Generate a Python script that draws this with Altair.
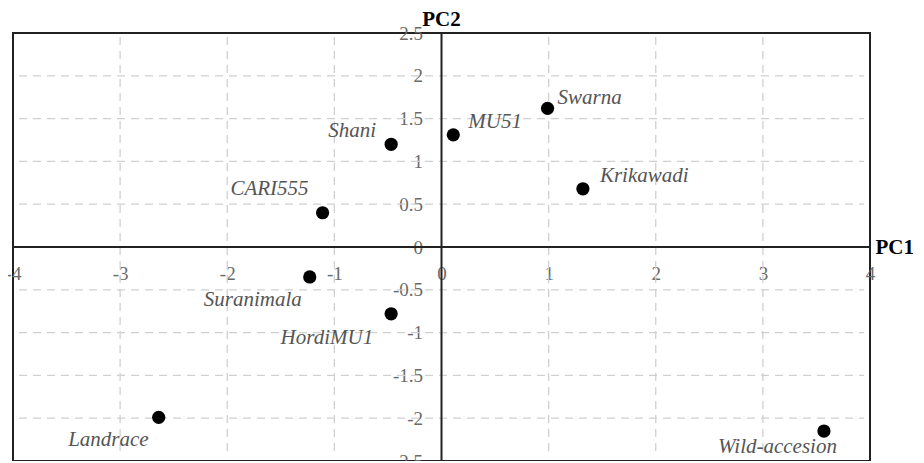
import altair as alt
import pandas as pd

names = ["Shani", "MU51", "Swarna", "Krikawadi", "CARI555", "Suranimala",
         "HordiMU1", "Landrace", "Wild-accesion"]
pc1 = [-0.47, 0.11, 0.99, 1.32, -1.11, -1.23, -0.47, -2.64, 3.57]
pc2 = [1.20, 1.31, 1.62, 0.68, 0.40, -0.35, -0.78, -1.99, -2.15]

x_ticks = [-4, -3, -2, -1, 0, 1, 2, 3, 4]
y_ticks = [-2.5, -2, -1.5, -1, -0.5, 0, 0.5, 1, 1.5, 2, 2.5]
x_grid = [-3, -2, -1, 1, 2, 3]
y_grid = [-2, -1.5, -1, -0.5, 0.5, 1, 1.5, 2]

# label placement (pixels relative to the point): dx, dy, align
label_style = {
    "Shani": (-15, -13, "right"),
    "MU51": (15, -13, "left"),
    "Swarna": (10, -10, "left"),
    "Krikawadi": (17, -13, "left"),
    "CARI555": (-14, -24, "right"),
    "Suranimala": (-8, 23, "right"),
    "HordiMU1": (-18, 24, "right"),
    "Landrace": (-10, 23, "right"),
    "Wild-accesion": (13, 16, "right"),
}

W, H = 857, 428
df = pd.DataFrame({"name": names, "PC1": pc1, "PC2": pc2})

xs = alt.Scale(domain=[-4, 4], nice=False, zero=False)
ys = alt.Scale(domain=[-2.5, 2.5], nice=False, zero=False)

serif = "Liberation Serif"
lab = "'' + datum.value"

xaxis = alt.Axis(values=x_ticks, grid=False, domain=False, ticks=False,
                 orient="bottom", offset=-H / 2, labelPadding=17,
                 labelFont=serif, labelFontSize=19, labelColor="#6a6a6a",
                 labelFlush=False, labelOverlap=False, labelExpr=lab,
                 title="PC1", titleFont=serif, titleFontSize=21,
                 titleFontWeight="bold", titleColor="black",
                 titleX=W + 5, titleY=0, titleAlign="left",
                 titleBaseline="middle", titleAngle=0)
yaxis = alt.Axis(values=y_ticks, grid=False, domain=False, ticks=False,
                 orient="left", offset=-W / 2, labelPadding=19,
                 labelFont=serif, labelFontSize=19, labelColor="#6a6a6a",
                 labelFlush=False, labelOverlap=False, labelExpr=lab, title=None)

xgrid = alt.Chart(pd.DataFrame({"v": x_grid})).mark_rule(
    color="#d0d0d0", strokeDash=[8, 6], strokeWidth=1.3
).encode(x=alt.X("v:Q", scale=xs, axis=xaxis), y=alt.value(4), y2=alt.value(H - 4))
ygrid = alt.Chart(pd.DataFrame({"v": y_grid})).mark_rule(
    color="#d0d0d0", strokeDash=[8, 6], strokeWidth=1.3
).encode(y=alt.Y("v:Q", scale=ys, axis=yaxis), x=alt.value(6), x2=alt.value(W - 6))

xzero = alt.Chart(pd.DataFrame({"v": [0]})).mark_rule(
    color="#222", strokeWidth=2
).encode(x=alt.X("v:Q", scale=xs, axis=xaxis))
yzero = alt.Chart(pd.DataFrame({"v": [0]})).mark_rule(
    color="#222", strokeWidth=2
).encode(y=alt.Y("v:Q", scale=ys, axis=yaxis))

points = alt.Chart(df).mark_circle(color="black", opacity=1, size=175).encode(
    x=alt.X("PC1:Q", scale=xs, axis=xaxis),
    y=alt.Y("PC2:Q", scale=ys, axis=yaxis),
)

texts = []
for n in names:
    dx, dy, al = label_style[n]
    texts.append(
        alt.Chart(df).transform_filter(alt.datum.name == n).mark_text(
            font=serif, fontSize=21, fontStyle="italic", color="#555555",
            align=al, baseline="middle", dx=dx, dy=dy
        ).encode(x=alt.X("PC1:Q", scale=xs, axis=xaxis),
                 y=alt.Y("PC2:Q", scale=ys, axis=yaxis), text="name:N")
    )

chart = alt.layer(xgrid, ygrid, xzero, yzero, points, *texts).properties(
    width=W, height=H,
    title=alt.TitleParams("PC2", font=serif, fontSize=21, fontWeight="bold",
                          color="black", anchor="middle", offset=-6),
    autosize=alt.AutoSizeParams(type="none"),
    padding={"left": 5, "top": 25, "right": 46, "bottom": 0},
).configure_view(stroke="#222", strokeWidth=2)

chart.save("out.html", embed_options={"renderer": "svg", "actions": False})
